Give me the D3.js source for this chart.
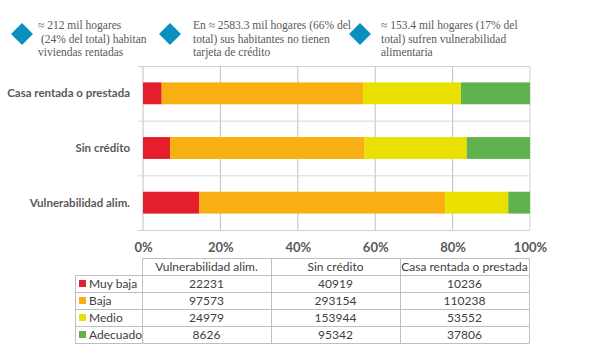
<!DOCTYPE html>
<meta charset="utf-8">
<style>
body { margin: 0; background: #fff; }
svg { display: block; }
.note { font: 11.5px "Liberation Serif", serif; fill: #595959; }
.cat { font: bold 11.5px Lato, "Open Sans", sans-serif; fill: #595959; }
.tick text { font: bold 13px Lato, sans-serif; fill: #595959; }
.cell { font: 12px Lato, "Open Sans", sans-serif; fill: #404040; }
</style>
<body>
<script src="https://d3js.org/d3.v7.min.js"></script>
<script>
// Categories, top to bottom in the chart
var categories = ["Casa rentada o prestada", "Sin crédito", "Vulnerabilidad alim."];
// Series (levels) and their counts per category
var levels = ["Muy baja", "Baja", "Medio", "Adecuado"];
var muyBaja  = [10236, 40919, 22231];
var baja     = [110238, 293154, 97573];
var medio    = [53552, 153944, 24979];
var adecuado = [37806, 95342, 8626];
var colors = ["#e41e2d", "#f8af12", "#e9e000", "#60b24e"];
// Table column order
var tableCols = ["Vulnerabilidad alim.", "Sin crédito", "Casa rentada o prestada"];
var tickValues = [0, 0.2, 0.4, 0.6, 0.8, 1];
var notes = [
    ["≈ 212 mil hogares", " (24% del total) habitan", "viviendas rentadas"],
    ["En ≈ 2583.3 mil hogares (66% del", "total) sus habitantes no tienen", "tarjeta de crédito"],
    ["≈ 153.4 mil hogares (17% del", "total) sufren vulnerabilidad", "alimentaria"]
];

var W = 600, H = 349;
var seriesVals = [muyBaja, baja, medio, adecuado];
var rows = categories.map(function(c, i) {
    var r = {cat: c};
    levels.forEach(function(l, j) { r[l] = seriesVals[j][i]; });
    return r;
});

var svg = d3.select("body").append("svg").attr("width", W).attr("height", H);

// notes at top
var noteX = [[22, 38], [170, 193], [360, 381]];
notes.forEach(function(lines, i) {
    var g = svg.append("g");
    g.append("path")
        .attr("d", d3.symbol().type(d3.symbolSquare).size(240)())
        .attr("transform", "translate(" + noteX[i][0] + ",34) rotate(45)")
        .attr("fill", "#0b8fbd");
    g.selectAll("text").data(lines).enter().append("text")
        .attr("class", "note")
        .attr("x", noteX[i][1])
        .attr("y", function(d, k) { return 29 + k * 13.5; })
        .style("white-space", "pre")
        .text(function(d) { return d; });
});

var x = d3.scaleLinear().domain([0, 1]).range([143, 530]);
var y = d3.scaleBand().domain(categories).range([66, 230]).paddingInner(0.6).paddingOuter(0.3);
var yb = d3.scaleBand().domain(categories).range([66, 230]);

// vertical gridlines
svg.append("g").selectAll("line").data(tickValues.slice(1)).enter().append("line")
    .attr("x1", function(d) { return x(d); }).attr("x2", function(d) { return x(d); })
    .attr("y1", 66).attr("y2", 230)
    .attr("stroke", function(d) { return d === 1 ? "#d0d0d0" : "#bfbfbf"; });
// top border
svg.append("line").attr("x1", 143).attr("x2", 530).attr("y1", 66.5).attr("y2", 66.5).attr("stroke", "#d0d0d0");
// category separators
svg.append("g").selectAll("line").data(categories.slice(1)).enter().append("line")
    .attr("x1", 138).attr("x2", 530)
    .attr("y1", function(d) { return yb(d) + 0.5; }).attr("y2", function(d) { return yb(d) + 0.5; })
    .attr("stroke", "#d9d9d9");
// left axis and bottom
svg.append("line").attr("x1", 143).attr("x2", 143).attr("y1", 66).attr("y2", 230).attr("stroke", "#bfbfbf");
svg.append("line").attr("x1", 138).attr("x2", 530).attr("y1", 230.5).attr("y2", 230.5).attr("stroke", "#d0d0d0");
svg.append("line").attr("x1", 138).attr("x2", 143).attr("y1", 66.5).attr("y2", 66.5).attr("stroke", "#d0d0d0");

var stack = d3.stack().keys(levels).offset(d3.stackOffsetExpand);
var stacked = stack(rows);
svg.append("g").selectAll("g").data(stacked).enter().append("g")
    .attr("fill", function(d, i) { return colors[i]; })
    .selectAll("rect").data(function(d) { return d; }).enter().append("rect")
    .attr("x", function(d) { return x(d[0]); })
    .attr("width", function(d) { return x(d[1]) - x(d[0]); })
    .attr("y", function(d) { return y(d.data.cat); })
    .attr("height", y.bandwidth());

// category labels
svg.append("g").selectAll("text").data(categories).enter().append("text")
    .attr("class", "cat")
    .attr("x", 130)
    .attr("y", function(d) { return y(d) + y.bandwidth() / 2; })
    .attr("dy", "0.35em")
    .attr("text-anchor", "end")
    .text(function(d) { return d; });

// x axis labels
var xAxis = d3.axisBottom(x).tickValues(tickValues).tickFormat(d3.format(".0%")).tickSize(0).tickPadding(0);
var ax = svg.append("g").attr("transform", "translate(0,242)").call(xAxis);
ax.select(".domain").remove();
ax.selectAll(".tick text").attr("dy", "0.8em");

// data table
var colX = d3.scaleBand().domain(tableCols).range([142, 529]);
var rowY = d3.scaleBand().domain(["head"].concat(levels)).range([258, 343]);
var tg = svg.append("g");
var lineCol = "#bfbfbf";
// horizontal lines
tg.append("line").attr("x1", 142).attr("x2", 529).attr("y1", 258.5).attr("y2", 258.5).attr("stroke", lineCol);
levels.forEach(function(l) {
    tg.append("line").attr("x1", 75).attr("x2", 529)
        .attr("y1", Math.round(rowY(l)) + 0.5).attr("y2", Math.round(rowY(l)) + 0.5).attr("stroke", lineCol);
});
tg.append("line").attr("x1", 75).attr("x2", 529).attr("y1", 343.5).attr("y2", 343.5).attr("stroke", lineCol);
// vertical lines
tg.append("line").attr("x1", 75.5).attr("x2", 75.5).attr("y1", rowY(levels[0])).attr("y2", 343.5).attr("stroke", lineCol);
tableCols.concat(["end"]).forEach(function(c) {
    var xx = c === "end" ? 529 : colX(c);
    tg.append("line").attr("x1", Math.round(xx) + 0.5).attr("x2", Math.round(xx) + 0.5)
        .attr("y1", 258).attr("y2", 343.5).attr("stroke", lineCol);
});
// header
tg.selectAll("text.head").data(tableCols).enter().append("text")
    .attr("class", "cell")
    .attr("x", function(d) { return colX(d) + colX.bandwidth() / 2; })
    .attr("y", rowY("head") + rowY.bandwidth() / 2)
    .attr("dy", "0.35em").attr("text-anchor", "middle")
    .text(function(d) { return d; });
// row labels with legend swatches
levels.forEach(function(l, j) {
    var cy = rowY(l) + rowY.bandwidth() / 2;
    tg.append("rect").attr("x", 79).attr("y", cy - 3.5).attr("width", 7).attr("height", 7).attr("fill", colors[j]);
    tg.append("text").attr("class", "cell").attr("x", 89).attr("y", cy).attr("dy", "0.35em").text(l);
    tableCols.forEach(function(c) {
        var i = categories.indexOf(c);
        tg.append("text").attr("class", "cell")
            .attr("x", colX(c) + colX.bandwidth() / 2).attr("y", cy)
            .attr("dy", "0.35em").attr("text-anchor", "middle")
            .text(seriesVals[j][i]);
    });
});
</script>
</body>
